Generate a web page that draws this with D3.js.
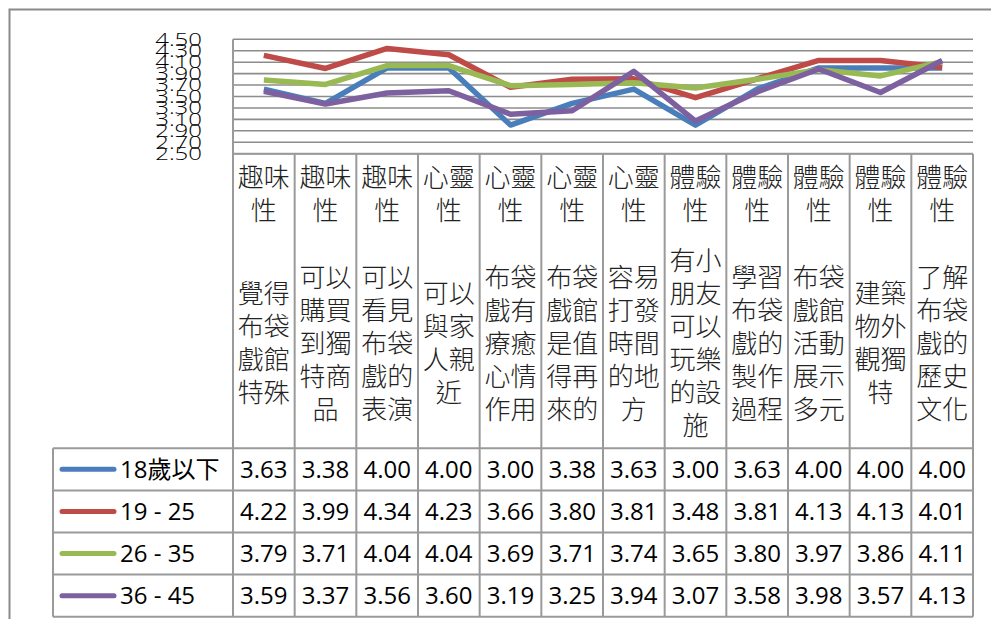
<!DOCTYPE html>
<html>
<head>
<meta charset="utf-8">
<script src="https://cdnjs.cloudflare.com/ajax/libs/d3/7.8.5/d3.min.js"></script>
<style>
  body { margin: 0; background: #fff; }
  svg { display: block; }
</style>
</head>
<body>
<div class="chart"></div>
<script>
// data
var groups = ["趣味性", "趣味性", "趣味性", "心靈性", "心靈性", "心靈性", "心靈性",
    "體驗性", "體驗性", "體驗性", "體驗性", "體驗性"];
var items = ["覺得布袋戲館特殊", "可以購買到獨特商品", "可以看見布袋戲的表演", "可以與家人親近",
    "布袋戲有療癒心情作用", "布袋戲館是值得再來的", "容易打發時間的地方", "有小朋友可以玩樂的設施",
    "學習布袋戲的製作過程", "布袋戲館活動展示多元", "建築物外觀獨特", "了解布袋戲的歷史文化"];
var seriesNames = ["18歲以下", "19 - 25", "26 - 35", "36 - 45"];
var age18 = [3.63, 3.38, 4.00, 4.00, 3.00, 3.38, 3.63, 3.00, 3.63, 4.00, 4.00, 4.00];
var age19 = [4.22, 3.99, 4.34, 4.23, 3.66, 3.80, 3.81, 3.48, 3.81, 4.13, 4.13, 4.01];
var age26 = [3.79, 3.71, 4.04, 4.04, 3.69, 3.71, 3.74, 3.65, 3.80, 3.97, 3.86, 4.11];
var age36 = [3.59, 3.37, 3.56, 3.60, 3.19, 3.25, 3.94, 3.07, 3.58, 3.98, 3.57, 4.13];
var yTicks = [2.5, 2.7, 2.9, 3.1, 3.3, 3.5, 3.7, 3.9, 4.1, 4.3, 4.5];

var seriesValues = [age18, age19, age26, age36];
var colors = ["#4a7ebb", "#be4b48", "#98b954", "#7d60a0"];

var svgWidth = 991;
var svgHeight = 619;

// plot area and data table geometry
var plot = { left: 233, right: 973, top: 39.3, bottom: 153.7 };
var headerBottom = 448.3;
var rowH = 42.1;
var legendLeft = 53;
var lineGray = "#9a9a9a";

var svg = d3.select(".chart")
    .append("svg")
    .attr("width", svgWidth)
    .attr("height", svgHeight);

// outer chart frame (runs off right and bottom)
svg.append("path")
    .attr("d", "M9.5," + svgHeight + "V9.5H" + svgWidth)
    .attr("fill", "none")
    .attr("stroke", "#8a8a8a")
    .attr("stroke-width", 2);

var xScale = d3.scaleBand()
    .domain(d3.range(items.length))
    .range([plot.left, plot.right])
    .padding(0);

var yScale = d3.scaleLinear()
    .domain([2.5, 4.5])
    .range([plot.bottom, plot.top]);

var xMid = function(i) { return xScale(i) + xScale.bandwidth() / 2; };

// gridlines
svg.append("g")
    .selectAll("line")
    .data(yTicks)
    .enter()
    .append("line")
    .attr("x1", plot.left)
    .attr("x2", plot.right)
    .attr("y1", d => yScale(d))
    .attr("y2", d => yScale(d))
    .attr("stroke", "#8c8c8c")
    .attr("stroke-width", 1.6);

// y axis labels (squashed vertically, like the original)
var leftAxis = d3.axisLeft(yScale)
    .tickValues(yTicks)
    .tickFormat(d3.format(".2f"))
    .tickSize(0)
    .tickPadding(31);

var yAxisG = svg.append("g")
    .attr("transform", `translate(${plot.left}, 0)`)
    .call(leftAxis);
yAxisG.select(".domain").remove();
yAxisG.selectAll("text")
    .attr("font-family", "'Open Sans', sans-serif")
    .attr("font-size", 24)
    .attr("font-weight", 300)
    .attr("fill", "#000")
    .attr("transform", "scale(1,0.75)");

// table grid
var tableG = svg.append("g")
    .attr("stroke", lineGray)
    .attr("stroke-width", 2);

// vertical lines through header and rows
d3.range(items.length + 1).forEach(function(i) {
    var x = i < items.length ? xScale(i) : plot.right;
    tableG.append("line")
        .attr("x1", x).attr("x2", x)
        .attr("y1", i === 0 ? plot.top : plot.bottom)
        .attr("y2", headerBottom + rowH * seriesNames.length);
});
tableG.append("line")
    .attr("x1", plot.left).attr("x2", plot.right)
    .attr("y1", plot.bottom).attr("y2", plot.bottom);
d3.range(seriesNames.length + 1).forEach(function(r) {
    var y = headerBottom + r * rowH;
    tableG.append("line")
        .attr("x1", legendLeft).attr("x2", plot.right)
        .attr("y1", y).attr("y2", y);
});
tableG.append("line")
    .attr("x1", legendLeft).attr("x2", legendLeft)
    .attr("y1", headerBottom).attr("y2", headerBottom + rowH * seriesNames.length);

// category labels: group on top, item centred below, two characters per line
var cjkFont = "'Noto Sans CJK TC', 'Noto Sans CJK SC', sans-serif";
var lineH = 33;
function chunk(s) {
    var out = [];
    for (var k = 0; k < s.length; k += 2) out.push(s.slice(k, k + 2));
    return out;
}
var catG = svg.append("g")
    .attr("font-family", cjkFont)
    .attr("font-size", 26)
    .attr("font-weight", 300)
    .attr("fill", "#222")
    .attr("text-anchor", "middle");

items.forEach(function(item, i) {
    chunk(groups[i]).forEach(function(t, k) {
        catG.append("text")
            .attr("x", xMid(i))
            .attr("y", 175 + k * lineH)
            .attr("dominant-baseline", "central")
            .text(t);
    });
    var parts = chunk(item);
    var start = 341 - (parts.length - 1) * lineH / 2;
    parts.forEach(function(t, k) {
        catG.append("text")
            .attr("x", xMid(i))
            .attr("y", start + k * lineH)
            .attr("dominant-baseline", "central")
            .text(t);
    });
});

// lines
var line = d3.line()
    .x((d, i) => xMid(i))
    .y(d => yScale(d));

svg.append("g")
    .selectAll("path")
    .data(seriesValues)
    .enter()
    .append("path")
    .attr("d", d => line(d))
    .attr("fill", "none")
    .attr("stroke", (d, i) => colors[i])
    .attr("stroke-width", 5.5)
    .attr("stroke-linejoin", "round");

// data table rows with legend keys
var rows = svg.append("g")
    .selectAll("g")
    .data(seriesValues)
    .enter()
    .append("g")
    .attr("transform", (d, r) => `translate(0, ${headerBottom + r * rowH + rowH / 2})`);

rows.append("line")
    .attr("x1", 62).attr("x2", 114)
    .attr("y1", 0).attr("y2", 0)
    .attr("stroke", (d, r) => colors[r])
    .attr("stroke-width", 5)
    .attr("stroke-linecap", "round");

rows.append("text")
    .attr("x", 120)
    .attr("dy", "0.36em")
    .attr("font-family", "'Open Sans', " + cjkFont)
    .attr("font-size", 24)
    .attr("fill", "#000")
    .text((d, r) => seriesNames[r]);

rows.selectAll(".val")
    .data(d => d)
    .enter()
    .append("text")
    .attr("class", "val")
    .attr("x", (d, i) => xMid(i))
    .attr("dy", "0.36em")
    .attr("text-anchor", "middle")
    .attr("font-family", "'Open Sans', sans-serif")
    .attr("font-size", 24)
    .attr("fill", "#000")
    .text(d => d3.format(".2f")(d));
</script>
</body>
</html>
